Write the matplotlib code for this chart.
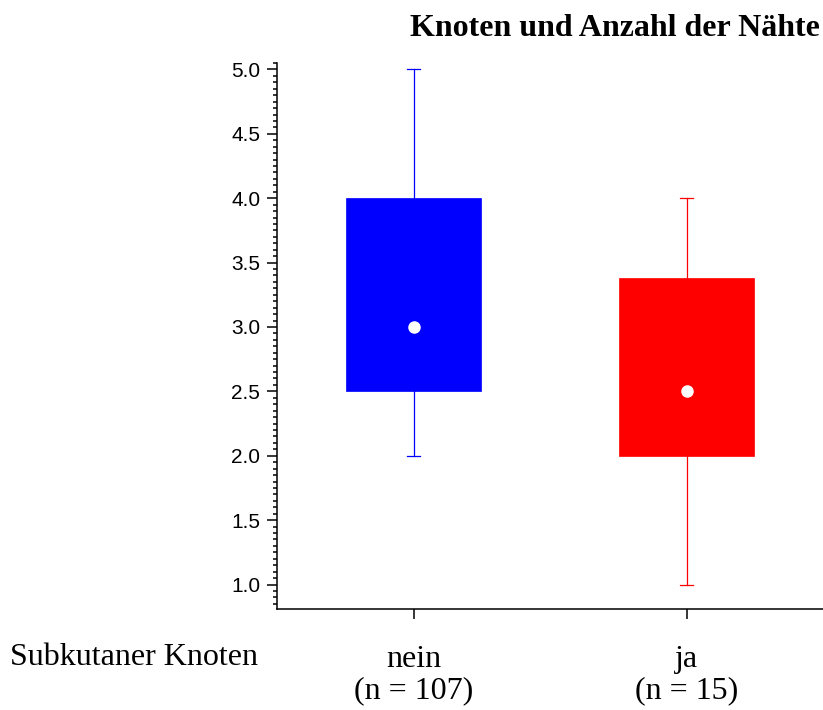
import matplotlib
matplotlib.use("Agg")
import matplotlib.pyplot as plt
from matplotlib.ticker import MultipleLocator, FormatStrFormatter

# ---- data ----
groups = ["nein", "ja"]
group_n = [107, 15]
whisker_low = [2.0, 1.0]
q1 = [2.5, 2.0]
medians = [3.0, 2.5]
q3 = [4.0, 3.38]
whisker_high = [5.0, 4.0]
box_colors = ["#0000FF", "#FF0000"]

TITLE = "Knoten und Anzahl der Nähte"
GROUP_LABEL = "Subkutaner Knoten"

SERIF = ["Liberation Serif", "DejaVu Serif"]
SANS = ["Liberation Sans", "DejaVu Sans"]

fig = plt.figure(figsize=(8.23, 7.10), dpi=100)
ax = fig.add_axes([277 / 823, 1 - 609 / 710, 1 - 277 / 823, (609 - 63) / 710])

positions = list(range(1, len(groups) + 1))
for i, pos in enumerate(positions):
    stats = [dict(med=medians[i], q1=q1[i], q3=q3[i],
                  whislo=whisker_low[i], whishi=whisker_high[i], fliers=[])]
    col = box_colors[i]
    ax.bxp(stats, positions=[pos], widths=0.495, capwidths=0.045,
           patch_artist=True, showfliers=False,
           boxprops=dict(facecolor=col, edgecolor=col, linewidth=0.5),
           whiskerprops=dict(color=col, linewidth=0.9),
           capprops=dict(color=col, linewidth=0.9),
           medianprops=dict(visible=False))
    ax.plot(pos, medians[i], "o", color="white", markersize=8, zorder=5)

ax.set_xlim(0.5, 2.5)
ax.set_ylim(0.81, 5.05)

# axis styling
for side in ["top", "right"]:
    ax.spines[side].set_visible(False)
for side in ["left", "bottom"]:
    ax.spines[side].set_linewidth(1.1)

ax.yaxis.set_major_locator(MultipleLocator(0.5))
ax.yaxis.set_minor_locator(MultipleLocator(0.05))
ax.yaxis.set_major_formatter(FormatStrFormatter("%.1f"))
ax.tick_params(axis="y", which="major", direction="out", length=7, width=1.1,
               labelsize=15, pad=5)
ax.tick_params(axis="y", which="minor", direction="out", length=3, width=1.1)
for lbl in ax.get_yticklabels():
    lbl.set_family(SANS)

ax.set_xticks(positions)
ax.set_xticklabels([f"{g}\n(n = {n})" for g, n in zip(groups, group_n)],
                   family=SERIF, fontsize=23, linespacing=1.08)
ax.tick_params(axis="x", direction="out", length=7, width=1.1, pad=19)

fig.text(820 / 823, 1 - 36 / 710, TITLE, ha="right", va="baseline",
         family=SERIF, fontweight="bold", fontsize=23)
fig.text(10 / 823, 1 - 665 / 710, GROUP_LABEL, ha="left", va="baseline",
         family=SERIF, fontsize=23)

fig.savefig("out.png", dpi=100)
